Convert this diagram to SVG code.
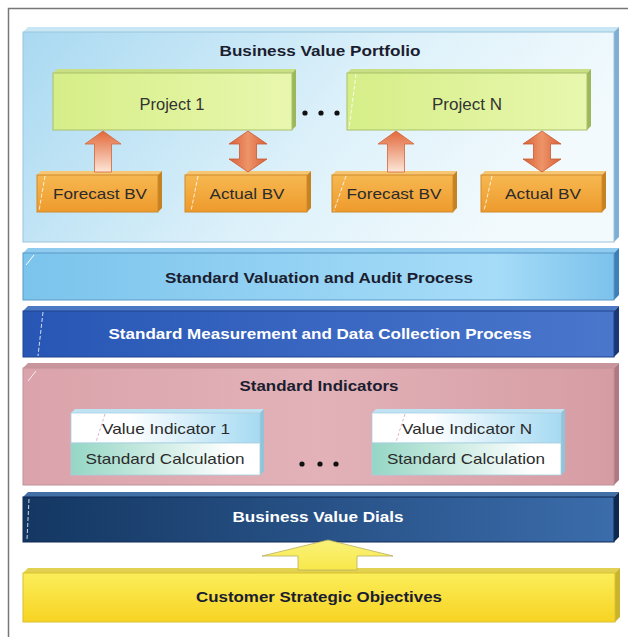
<svg xmlns="http://www.w3.org/2000/svg" width="628" height="637" viewBox="0 0 628 637">
<defs>
<linearGradient id="gPort" x1="0" y1="0" x2="1" y2="0.3"><stop offset="0" stop-color="#A9D9F1"/><stop offset="0.6" stop-color="#DDF1FA"/><stop offset="1" stop-color="#F2FAFD"/></linearGradient>
<linearGradient id="gProj" x1="0" y1="0" x2="1" y2="0"><stop offset="0" stop-color="#D6EE88"/><stop offset="1" stop-color="#E8F7AE"/></linearGradient>
<linearGradient id="gBV" x1="0" y1="0" x2="0" y2="1"><stop offset="0" stop-color="#F6B851"/><stop offset="1" stop-color="#EE9A2C"/></linearGradient>
<linearGradient id="gUp" x1="0" y1="0" x2="0" y2="1"><stop offset="0" stop-color="#E2683A"/><stop offset="1" stop-color="#FCE6D8"/></linearGradient>
<linearGradient id="gDbl" x1="0" y1="0" x2="1" y2="0"><stop offset="0" stop-color="#D8603A"/><stop offset="0.5" stop-color="#EE9468"/><stop offset="1" stop-color="#D8603A"/></linearGradient>
<linearGradient id="gVal" x1="0" y1="0" x2="1" y2="0"><stop offset="0" stop-color="#7BC4EC"/><stop offset="0.8" stop-color="#A6DCF8"/><stop offset="1" stop-color="#7CC2EC"/></linearGradient>
<linearGradient id="gMeas" x1="0" y1="0" x2="1" y2="0"><stop offset="0" stop-color="#2756B5"/><stop offset="1" stop-color="#4A77CC"/></linearGradient>
<linearGradient id="gInd" x1="0" y1="0" x2="1" y2="0"><stop offset="0" stop-color="#DBA3AB"/><stop offset="0.5" stop-color="#E2B2B8"/><stop offset="1" stop-color="#D69CA4"/></linearGradient>
<linearGradient id="gVI" x1="0" y1="0" x2="1" y2="0"><stop offset="0.3" stop-color="#FFFFFF"/><stop offset="1" stop-color="#A6DAF2"/></linearGradient>
<linearGradient id="gSC" x1="0" y1="0" x2="1" y2="0"><stop offset="0" stop-color="#95D6C4"/><stop offset="0.85" stop-color="#FFFFFF"/></linearGradient>
<linearGradient id="gDial" x1="0" y1="0" x2="1" y2="0"><stop offset="0" stop-color="#143762"/><stop offset="1" stop-color="#3B6CAB"/></linearGradient>
<linearGradient id="gCust" x1="0" y1="0" x2="0" y2="1"><stop offset="0" stop-color="#FBEE5A"/><stop offset="1" stop-color="#F7D322"/></linearGradient>
<linearGradient id="gYArrow" x1="0" y1="0" x2="0" y2="1"><stop offset="0" stop-color="#FAF27A"/><stop offset="1" stop-color="#F8E84A"/></linearGradient>
</defs>
<style>
text{font-family:"Liberation Sans",Arial,sans-serif;text-anchor:middle}
.t{font-weight:bold;font-size:15px;fill:#1B1D30}
.tw{font-weight:bold;font-size:15px;fill:#FFFFFF}
.p{font-size:16px;fill:#333333}
.s{font-size:15px;fill:#2B2B2B}
.hl{stroke:#FFFFFF;stroke-width:1;fill:none;opacity:0.8;stroke-dasharray:4 2}
</style>
<rect x="8.5" y="8.5" width="650" height="650" fill="#FFFFFF" stroke="#777777" stroke-width="1.5"/>

<g id="portfolio">
<polygon points="23,32 28,27 619,27 614,32" fill="#C9E6F5"/>
<polygon points="614,32 619,27 619,237 614,242" fill="#7EAED4"/>
<rect x="23" y="32" width="591" height="210" fill="url(#gPort)" stroke="#9CC3DC" stroke-width="1"/>
<text class="t" x="320" y="56" textLength="201" lengthAdjust="spacingAndGlyphs">Business Value Portfolio</text>
</g>

<g id="project1">
<polygon points="53,73 57,69 296,69 292,73" fill="#C9DF84"/>
<polygon points="292,73 296,69 296,126 292,130" fill="#9DB85A"/>
<rect x="53" y="73" width="239" height="57" fill="url(#gProj)" stroke="#A9C06A" stroke-width="1"/>
<text class="p" x="172" y="110" textLength="65" lengthAdjust="spacingAndGlyphs">Project 1</text>
</g>
<g id="projectN">
<polygon points="347,73 351,69 591,69 587,73" fill="#C9DF84"/>
<polygon points="587,73 591,69 591,126 587,130" fill="#9DB85A"/>
<rect x="347" y="73" width="240" height="57" fill="url(#gProj)" stroke="#A9C06A" stroke-width="1"/>
<line class="hl" x1="356" y1="74" x2="349" y2="129"/>
<text class="p" x="467" y="110" textLength="70" lengthAdjust="spacingAndGlyphs">Project N</text>
</g>
<g id="projDots" fill="#111111">
<circle cx="305" cy="113" r="2.6"/><circle cx="321" cy="113" r="2.6"/><circle cx="337" cy="113" r="2.6"/>
</g>

<g id="forecast1">
<polygon points="37,175 41,171 162,171 158,175" fill="#F7C673"/>
<polygon points="158,175 162,171 162,208 158,212" fill="#C58221"/>
<rect x="37" y="175" width="121" height="37" fill="url(#gBV)" stroke="#D08A2A" stroke-width="1"/>
<line class="hl" x1="45" y1="176" x2="39" y2="211"/>
<text class="s" x="100" y="199" textLength="94" lengthAdjust="spacingAndGlyphs">Forecast BV</text>
</g>
<g id="actual1">
<polygon points="185,175 189,171 311,171 307,175" fill="#F7C673"/>
<polygon points="307,175 311,171 311,208 307,212" fill="#C58221"/>
<rect x="185" y="175" width="122" height="37" fill="url(#gBV)" stroke="#D08A2A" stroke-width="1"/>
<line class="hl" x1="198" y1="176" x2="191" y2="211"/>
<text class="s" x="247" y="199" textLength="75" lengthAdjust="spacingAndGlyphs">Actual BV</text>
</g>
<g id="forecastN">
<polygon points="332,175 336,171 457,171 453,175" fill="#F7C673"/>
<polygon points="453,175 457,171 457,208 453,212" fill="#C58221"/>
<rect x="332" y="175" width="121" height="37" fill="url(#gBV)" stroke="#D08A2A" stroke-width="1"/>
<line class="hl" x1="346" y1="176" x2="334" y2="211"/>
<text class="s" x="394" y="199" textLength="95" lengthAdjust="spacingAndGlyphs">Forecast BV</text>
</g>
<g id="actualN">
<polygon points="481,175 485,171 606,171 602,175" fill="#F7C673"/>
<polygon points="602,175 606,171 606,208 602,212" fill="#C58221"/>
<rect x="481" y="175" width="121" height="37" fill="url(#gBV)" stroke="#D08A2A" stroke-width="1"/>
<line class="hl" x1="492" y1="176" x2="484" y2="211"/>
<text class="s" x="543" y="199" textLength="76" lengthAdjust="spacingAndGlyphs">Actual BV</text>
</g>

<g id="valuation">
<polygon points="23,253 28,248 619,248 614,253" fill="#8FCBEE"/>
<polygon points="614,253 619,248 619,295 614,300" fill="#3D7FB8"/>
<rect x="23" y="253" width="591" height="47" fill="url(#gVal)" stroke="#5A9AC8" stroke-width="1"/>
<line x1="34" y1="255" x2="26" y2="265" stroke="#FFFFFF" stroke-width="1"/>
<text class="t" x="319" y="283" textLength="308" lengthAdjust="spacingAndGlyphs">Standard Valuation and Audit Process</text>
</g>

<g id="measurement">
<polygon points="23,311 28,306 619,306 614,311" fill="#4B79C4"/>
<polygon points="614,311 619,306 619,352 614,357" fill="#1A3775"/>
<rect x="23" y="311" width="591" height="46" fill="url(#gMeas)" stroke="#1E4490" stroke-width="1"/>
<line class="hl" x1="43" y1="312" x2="38" y2="356"/>
<text class="tw" x="320" y="339" textLength="423" lengthAdjust="spacingAndGlyphs">Standard Measurement and Data Collection Process</text>
</g>

<g id="indicators">
<polygon points="23,368 28,363 619,363 614,368" fill="#C9959C"/>
<polygon points="614,368 619,363 619,480 614,485" fill="#B07880"/>
<rect x="23" y="368" width="591" height="117" fill="url(#gInd)" stroke="#C0929A" stroke-width="1"/>
<line x1="36" y1="371" x2="28" y2="381" stroke="#FFFFFF" stroke-width="1" opacity="0.8"/>
<text class="t" x="319" y="391" textLength="159" lengthAdjust="spacingAndGlyphs">Standard Indicators</text>
</g>

<g id="valueIndicator1">
<polygon points="71,413 75,409 264,409 260,413" fill="#BFE3F3"/>
<polygon points="260,413 264,409 264,471 260,475" fill="#8FC4DA"/>
<rect x="71" y="413" width="189" height="30" fill="url(#gVI)" stroke="#A8D0E0" stroke-width="0.8"/>
<rect x="71" y="443" width="189" height="32" fill="url(#gSC)" stroke="#A8D0E0" stroke-width="0.8"/>
<line x1="105" y1="414" x2="96" y2="442" stroke="#D8A0C0" stroke-width="0.8" stroke-dasharray="3 2"/>
<text class="s" x="166" y="434" textLength="128" lengthAdjust="spacingAndGlyphs">Value Indicator 1</text>
<text class="s" x="165" y="464" textLength="159" lengthAdjust="spacingAndGlyphs">Standard Calculation</text>
</g>
<g id="valueIndicatorN">
<polygon points="372,413 376,409 565,409 561,413" fill="#BFE3F3"/>
<polygon points="561,413 565,409 565,471 561,475" fill="#8FC4DA"/>
<rect x="372" y="413" width="189" height="30" fill="url(#gVI)" stroke="#A8D0E0" stroke-width="0.8"/>
<rect x="372" y="443" width="189" height="32" fill="url(#gSC)" stroke="#A8D0E0" stroke-width="0.8"/>
<line x1="405" y1="414" x2="396" y2="442" stroke="#D8A0C0" stroke-width="0.8" stroke-dasharray="3 2"/>
<text class="s" x="467" y="434" textLength="130" lengthAdjust="spacingAndGlyphs">Value Indicator N</text>
<text class="s" x="466" y="464" textLength="158" lengthAdjust="spacingAndGlyphs">Standard Calculation</text>
</g>
<g id="indDots" fill="#111111">
<circle cx="302" cy="464" r="2.6"/><circle cx="320" cy="464" r="2.6"/><circle cx="336" cy="464" r="2.6"/>
</g>

<g id="dials">
<polygon points="23,497 28,492 619,492 614,497" fill="#4470A8"/>
<polygon points="614,497 619,492 619,537 614,542" fill="#0F2850"/>
<rect x="23" y="497" width="591" height="45" fill="url(#gDial)" stroke="#0E2A55" stroke-width="1"/>
<line class="hl" x1="29" y1="499" x2="27" y2="540"/>
<text class="tw" x="318" y="522" textLength="171" lengthAdjust="spacingAndGlyphs">Business Value Dials</text>
</g>

<g id="customer">
<polygon points="23,573 28,568 620,568 615,573" fill="#E2D050"/>
<polygon points="615,573 620,568 620,617 615,622" fill="#C9B42C"/>
<rect x="23" y="573" width="592" height="49" fill="url(#gCust)" stroke="#D8C030" stroke-width="1"/>
<text class="t" x="319" y="602" textLength="246" lengthAdjust="spacingAndGlyphs">Customer Strategic Objectives</text>
</g>

<g id="connectors">
<polygon points="103,131 121,144 111.5,144 111.5,172 94.5,172 94.5,144 85,144" fill="url(#gUp)" stroke="#D0653A" stroke-width="0.8"/>
<polygon points="248,131 267,144 256.5,144 256.5,159 267,159 248,172 229,159 239.5,159 239.5,144 229,144" fill="url(#gDbl)" stroke="#C85A30" stroke-width="0.8"/>
<polygon points="396,131 414,144 404.5,144 404.5,172 387.5,172 387.5,144 378,144" fill="url(#gUp)" stroke="#D0653A" stroke-width="0.8"/>
<polygon points="542,131 561,144 550.5,144 550.5,159 561,159 542,172 523,159 533.5,159 533.5,144 523,144" fill="url(#gDbl)" stroke="#C85A30" stroke-width="0.8"/>
<polygon points="328,540 393,556 357,556 357,570 298,570 298,556 262,556" fill="url(#gYArrow)" stroke="#B8B060" stroke-width="0.8"/>
</g>
</svg>
